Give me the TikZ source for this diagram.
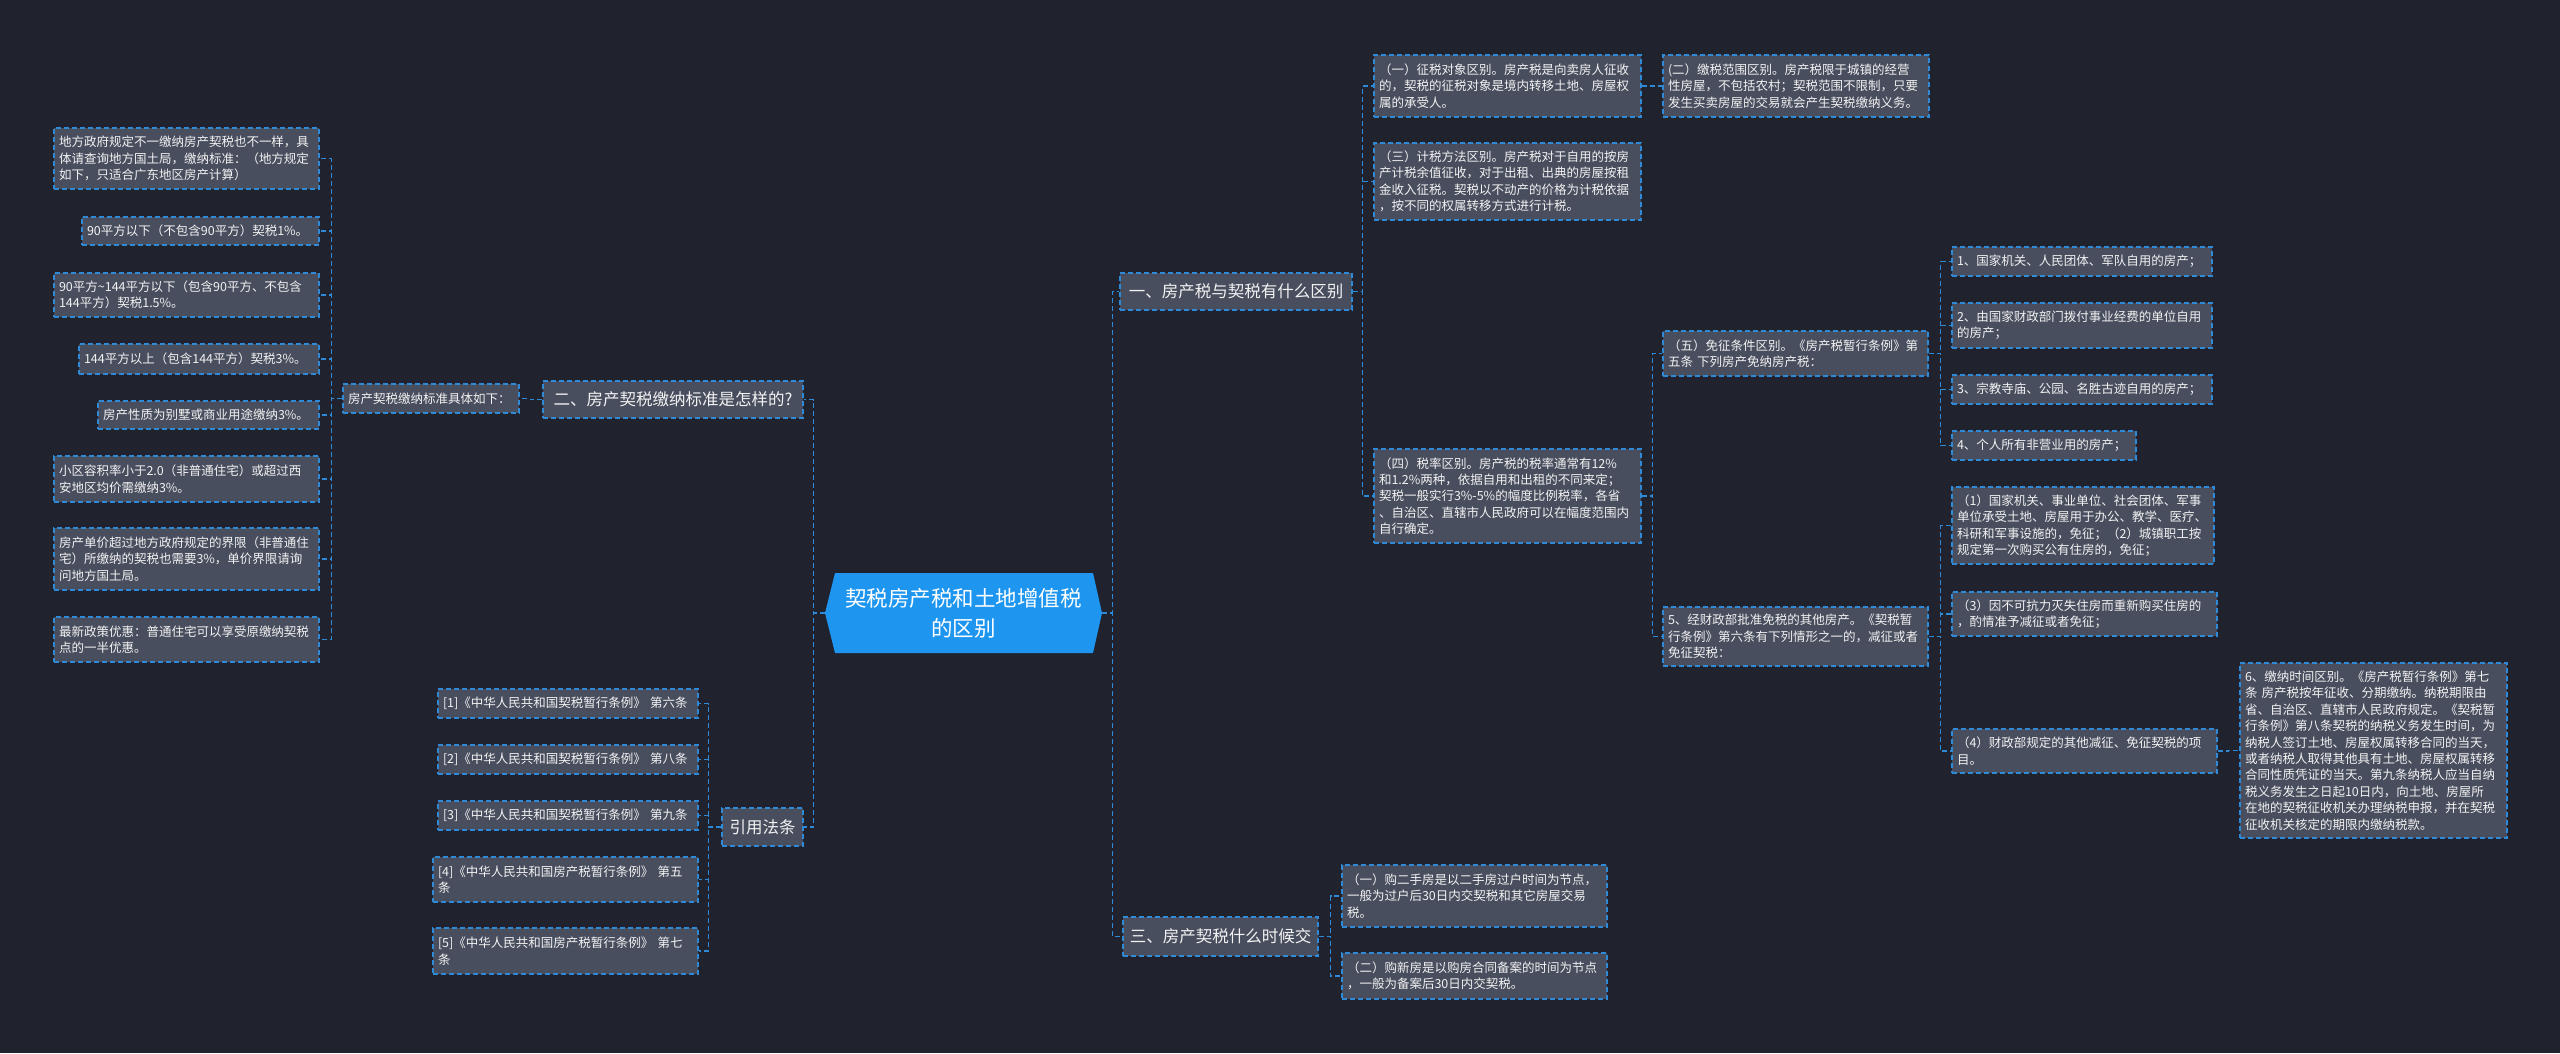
\documentclass[tikz,border=0pt]{standalone}
\usepackage{fontspec}
\setmainfont{Noto Sans CJK SC}
\definecolor{bgc}{RGB}{32,35,46}
\definecolor{nodefill}{RGB}{72,78,94}
\definecolor{linkblue}{RGB}{46,138,214}
\definecolor{rootblue}{RGB}{30,150,240}
\definecolor{txt}{RGB}{242,242,242}
\newcommand\bx[7][leaf]{%
  \pgfmathsetmacro\bxw{#5-#3}\pgfmathsetmacro\bxh{#6-#4}\pgfmathsetmacro\bxtw{#5-#3-10}%
  \node[#1, minimum width=\bxw pt, minimum height=\bxh pt, text width=\bxtw pt] (#2) at ({(#3+#5)/2},{(#4+#6)/2}) {#7};}
\newcommand\lvone[6]{%
  \pgfmathsetmacro\bxw{#4-#2}\pgfmathsetmacro\bxh{#5-#3}%
  \node[topic, minimum width=\bxw pt, minimum height=\bxh pt] (#1) at ({(#2+#4)/2},{(#3+#5)/2}) {#6};}
\begin{document}
\begin{tikzpicture}[x=1pt,y=-1pt,
  boxbase/.style={draw=linkblue, fill=nodefill, line width=1.3pt, dash pattern=on 5pt off 3pt, text=txt},
  leaf/.style={boxbase, inner xsep=5pt, inner ysep=4pt, align=left, font=\fontsize{12.5}{16.4}\selectfont},
  topic/.style={boxbase, inner sep=3pt, align=center, font=\fontsize{16.5}{20}\selectfont},
  link/.style={draw=linkblue, line width=1.3pt, dash pattern=on 5pt off 3pt}]
\fill[bgc] (0,0) rectangle (2560,1053);
\useasboundingbox (0,0) rectangle (2560,1053);

% root
\fill[rootblue] (825,613) -- (835,573) -- (1093,573) -- (1102,613) -- (1093,653) -- (835,653) -- cycle;
\node[text=white, align=center, minimum width=277pt, minimum height=80pt, inner sep=0pt,
  font=\fontsize{21.5}{30}\selectfont] (root) at (963.5,613) {契税房产税和土地增值税\\的区别};

% level 1
\lvone{L1a}{1120}{273}{1352}{310}{一、房产税与契税有什么区别}
\lvone{L1b}{543}{381}{803}{418}{二、房产契税缴纳标准是怎样的?}
\lvone{L1c}{722}{808}{803}{846}{引用法条}
\lvone{L1d}{1123}{917}{1318}{956}{三、房产契税什么时候交}

% left branch
\bx{l2}{343}{384}{519}{413}{房产契税缴纳标准具体如下：}
\bx{c1}{54}{128}{319}{189}{地方政府规定不一缴纳房产契税也不一样，具\\体请查询地方国土局，缴纳标准：（地方规定\\如下，只适合广东地区房产计算）}
\bx{c2}{82}{217}{319}{245}{90平方以下（不包含90平方）契税1\%。}
\bx{c3}{54}{273}{319}{317}{90平方\textasciitilde 144平方以下（包含90平方、不包含\\144平方）契税1.5\%。}
\bx{c4}{79}{344}{319}{374}{144平方以上（包含144平方）契税3\%。}
\bx{c5}{98}{401}{319}{429}{房产性质为别墅或商业用途缴纳3\%。}
\bx{c6}{54}{456}{319}{502}{小区容积率小于2.0（非普通住宅）或超过西\\安地区均价需缴纳3\%。}
\bx{c7}{54}{528}{319}{590}{房产单价超过地方政府规定的界限（非普通住\\宅）所缴纳的契税也需要3\%，单价界限请询\\问地方国土局。}
\bx{c8}{54}{617}{319}{662}{最新政策优惠：普通住宅可以享受原缴纳契税\\点的一半优惠。}

\bx{r1}{438}{689}{698}{718}{[1]《中华人民共和国契税暂行条例》 第六条}
\bx{r2}{438}{745}{698}{774}{[2]《中华人民共和国契税暂行条例》 第八条}
\bx{r3}{438}{801}{698}{830}{[3]《中华人民共和国契税暂行条例》 第九条}
\bx{r4}{433}{857}{698}{902}{[4]《中华人民共和国房产税暂行条例》 第五\\条}
\bx{r5}{433}{928}{698}{974}{[5]《中华人民共和国房产税暂行条例》 第七\\条}

% right branch
\bx{a1}{1374}{55}{1641}{117}{（一）征税对象区别。房产税是向卖房人征收\\的，契税的征税对象是境内转移土地、房屋权\\属的承受人。}
\bx{a2}{1663}{55}{1929}{117}{(二）缴税范围区别。房产税限于城镇的经营\\性房屋，不包括农村；契税范围不限制，只要\\发生买卖房屋的交易就会产生契税缴纳义务。}
\bx{a3}{1374}{143}{1641}{220}{（三）计税方法区别。房产税对于自用的按房\\产计税余值征收，对于出租、出典的房屋按租\\金收入征税。契税以不动产的价格为计税依据\\，按不同的权属转移方式进行计税。}
\bx{a4}{1374}{449}{1641}{543}{（四）税率区别。房产税的税率通常有12\%\\和1.2\%两种，依据自用和出租的不同来定；\\契税一般实行3\%-5\%的幅度比例税率，各省\\、自治区、直辖市人民政府可以在幅度范围内\\自行确定。}
\bx{b1}{1663}{331}{1928}{376}{（五）免征条件区别。《房产税暂行条例》第\\五条 下列房产免纳房产税：}
\bx{b2}{1663}{607}{1928}{666}{5、经财政部批准免税的其他房产。《契税暂\\行条例》第六条有下列情形之一的，减征或者\\免征契税：}
\bx{d1}{1952}{247}{2212}{276}{1、国家机关、人民团体、军队自用的房产；}
\bx{d2}{1952}{303}{2212}{348}{2、由国家财政部门拨付事业经费的单位自用\\的房产；}
\bx{d3}{1952}{375}{2212}{404}{3、宗教寺庙、公园、名胜古迹自用的房产；}
\bx{d4}{1952}{431}{2136}{460}{4、个人所有非营业用的房产；}
\bx{e1}{1952}{487}{2214}{564}{（1）国家机关、事业单位、社会团体、军事\\单位承受土地、房屋用于办公、教学、医疗、\\科研和军事设施的，免征；（2）城镇职工按\\规定第一次购买公有住房的，免征；}
\bx{e2}{1952}{592}{2217}{636}{（3）因不可抗力灭失住房而重新购买住房的\\，酌情准予减征或者免征；}
\bx{e3}{1952}{729}{2217}{773}{（4）财政部规定的其他减征、免征契税的项\\目。}
\bx{f1}{2240}{663}{2507}{838}{6、缴纳时间区别。《房产税暂行条例》第七\\条 房产税按年征收、分期缴纳。纳税期限由\\省、自治区、直辖市人民政府规定。《契税暂\\行条例》第八条契税的纳税义务发生时间，为\\纳税人签订土地、房屋权属转移合同的当天，\\或者纳税人取得其他具有土地、房屋权属转移\\合同性质凭证的当天。第九条纳税人应当自纳\\税义务发生之日起10日内，向土地、房屋所\\在地的契税征收机关办理纳税申报，并在契税\\征收机关核定的期限内缴纳税款。}
\bx{g1}{1342}{865}{1607}{927}{（一）购二手房是以二手房过户时间为节点，\\一般为过户后30日内交契税和其它房屋交易\\税。}
\bx{g2}{1342}{953}{1607}{999}{（二）购新房是以购房合同备案的时间为节点\\，一般为备案后30日内交契税。}

% connectors
\foreach \n in {L1a,L1d} \draw[link] (root.east) -- ++(10,0) |- (\n.west);
\foreach \n in {L1b,L1c} \draw[link] (root.west) -- ++(-11,0) |- (\n.east);
\draw[link] (L1b.west) -- ++(-12,0) |- (l2.east);
\foreach \n in {c1,c2,c3,c4,c5,c6,c7,c8} \draw[link] (l2.west) -- ++(-11,0) |- (\n.east);
\foreach \n in {r1,r2,r3,r4,r5} \draw[link] (L1c.west) -- ++(-13,0) |- (\n.east);
\foreach \n in {a1,a3,a4} \draw[link] (L1a.east) -- ++(10,0) |- (\n.west);
\draw[link] (a1.east) -- ++(11,0) |- (a2.west);
\foreach \n in {b1,b2} \draw[link] (a4.east) -- ++(11,0) |- (\n.west);
\foreach \n in {d1,d2,d3,d4} \draw[link] (b1.east) -- ++(12,0) |- (\n.west);
\foreach \n in {e1,e2,e3} \draw[link] (b2.east) -- ++(12,0) |- (\n.west);
\draw[link] (e3.east) -- ++(11,0) |- (f1.west);
\foreach \n in {g1,g2} \draw[link] (L1d.east) -- ++(12,0) |- (\n.west);
\end{tikzpicture}
\end{document}
